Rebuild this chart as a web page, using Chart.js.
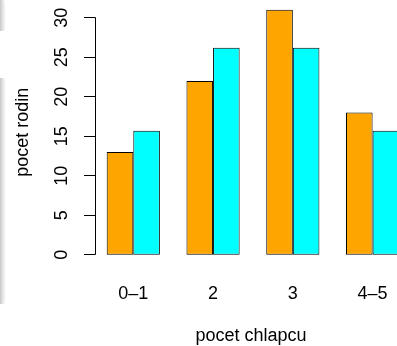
<!DOCTYPE html>
<html>
<head>
<meta charset="utf-8">
<script src="https://cdn.jsdelivr.net/npm/chart.js@4/dist/chart.umd.min.js"></script>
<style>
    html, body { margin: 0; background: #fff; overflow: hidden; }
    #wrap { position: relative; width: 397px; height: 346px; overflow: hidden; }
    .shade { position: absolute; left: 0; width: 6px; border-radius: 0 4px 4px 0;
             background: linear-gradient(to right, #c8c8c8, #e6e6e6 50%, rgba(255,255,255,0)); }
    canvas { position: absolute; left: 0; top: 0; }
</style>
</head>
<body>
<div id="wrap">
    <div class="shade" style="top:0;height:31px"></div>
    <div class="shade" style="top:78px;height:226px"></div>
    <!-- the plot runs a little past the right edge, as in the reference -->
    <canvas id="myChart" width="413" height="346"></canvas>
</div>
<script>
// data
const categories = ['0\u20131', '2', '3', '4\u20135'];
const observed = [13, 22, 31, 18];
const expected = [15.7, 26.2, 26.2, 15.7];
const yTicks = [0, 5, 10, 15, 20, 25, 30];
const xTitle = 'pocet chlapcu';
const yTitle = 'pocet rodin';

const FONT = '18px "Liberation Sans", Arial, sans-serif';

// R style axes: line only from first to last tick, rotated labels
const rAxes = {
    id: 'rAxes',
    afterDraw(chart) {
        const ctx = chart.ctx;
        const xs = chart.scales.x;
        const ys = chart.scales.y;
        const area = chart.chartArea;
        const snap = v => Math.round(v - 0.5) + 0.5;
        const axisX = 95.5;

        ctx.save();
        ctx.strokeStyle = '#000';
        ctx.lineWidth = 1;
        ctx.beginPath();
        ctx.moveTo(axisX, snap(ys.getPixelForValue(yTicks[0])));
        ctx.lineTo(axisX, snap(ys.getPixelForValue(yTicks[yTicks.length - 1])));
        yTicks.forEach(t => {
            const py = snap(ys.getPixelForValue(t));
            ctx.moveTo(axisX, py);
            ctx.lineTo(axisX - 11.5, py);
        });
        ctx.stroke();

        ctx.fillStyle = '#000';
        ctx.font = FONT;
        ctx.textAlign = 'center';
        ctx.textBaseline = 'alphabetic';
        yTicks.forEach(t => {
            ctx.save();
            ctx.translate(67, ys.getPixelForValue(t));
            ctx.rotate(-Math.PI / 2);
            ctx.fillText(String(t), 0, 0);
            ctx.restore();
        });

        categories.forEach((c, i) => {
            ctx.fillText(c, xs.getPixelForTick(i), 298.5);
        });

        ctx.fillText(xTitle, (area.left + area.right) / 2 - 2, 340.5);

        ctx.save();
        ctx.translate(27.5, (area.top + area.bottom) / 2);
        ctx.rotate(-Math.PI / 2);
        ctx.fillText(yTitle, 0, 0);
        ctx.restore();
        ctx.restore();
    }
};

const ctx = document.getElementById('myChart').getContext('2d');
new Chart(ctx, {
    type: 'bar',
    data: {
        labels: categories,
        datasets: [{
            data: observed,
            backgroundColor: '#FFA500',
            borderColor: '#000',
            borderWidth: 1,
            borderSkipped: false
        }, {
            data: expected,
            backgroundColor: '#00FFFF',
            borderColor: '#000',
            borderWidth: 1,
            borderSkipped: false
        }]
    },
    options: {
        responsive: false,
        animation: false,
        devicePixelRatio: 1,
        layout: { padding: { left: 93.4, right: 0.5, top: 0, bottom: 81.5 } },
        plugins: { legend: { display: false }, tooltip: { enabled: false } },
        datasets: { bar: { categoryPercentage: 2 / 3, barPercentage: 1 } },
        scales: {
            x: { display: false },
            y: { display: false, min: -1.24, max: 32.24 }
        }
    },
    plugins: [rAxes]
});
</script>
</body>
</html>
